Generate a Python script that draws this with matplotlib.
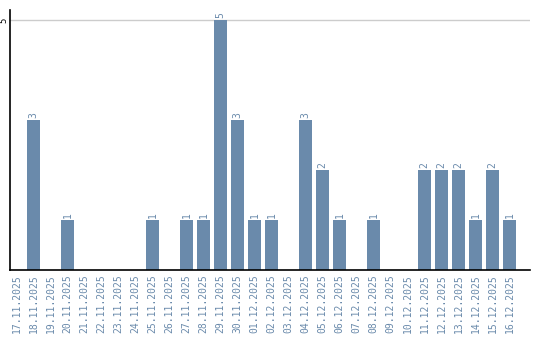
import matplotlib
matplotlib.use("Agg")
import matplotlib.pyplot as plt

dates = ["17.11.2025", "18.11.2025", "19.11.2025", "20.11.2025", "21.11.2025",
         "22.11.2025", "23.11.2025", "24.11.2025", "25.11.2025", "26.11.2025",
         "27.11.2025", "28.11.2025", "29.11.2025", "30.11.2025", "01.12.2025",
         "02.12.2025", "03.12.2025", "04.12.2025", "05.12.2025", "06.12.2025",
         "07.12.2025", "08.12.2025", "09.12.2025", "10.12.2025", "11.12.2025",
         "12.12.2025", "13.12.2025", "14.12.2025", "15.12.2025", "16.12.2025"]
values = [0, 3, 0, 1, 0, 0, 0, 0, 1, 0, 1, 1, 5, 3, 1, 1, 0, 3, 2, 1,
          0, 1, 0, 0, 2, 2, 2, 1, 2, 1]
y_ticks = [5]

bar_color = "#6a8aab"
label_color = "#6a8aab"

fig = plt.figure(figsize=(5.4, 3.4), dpi=100)
ax = fig.add_axes([10/540, 70/340, 520/540, 260/340])

x = list(range(len(dates)))
ax.bar(x, values, width=0.76, color=bar_color, zorder=2)
for xi, v in zip(x, values):
    if v > 0:
        ax.annotate(str(v), (xi, v), xytext=(0, 1.5), textcoords="offset points",
                    rotation=90, ha="center", va="bottom", color=label_color,
                    fontsize=7, family="DejaVu Sans Mono")

ax.set_xlim(-0.38, 30.2)
ax.set_ylim(0, 5.2)
ax.set_xticks(x)
ax.set_xticklabels(dates, rotation=90, color=label_color, fontsize=7,
                   family="DejaVu Sans Mono")
ax.set_yticks(y_ticks)
ax.set_yticklabels([str(t) for t in y_ticks], rotation=90, va="center",
                   fontsize=6.5, family="DejaVu Sans Mono", color="black")
ax.tick_params(axis="x", length=0, pad=3)
ax.tick_params(axis="y", length=0, pad=1)
ax.grid(axis="y", color="#cccccc", linewidth=1, zorder=0)
for s in ["top", "right"]:
    ax.spines[s].set_visible(False)
ax.spines["left"].set_color("black")
ax.spines["bottom"].set_color("black")
ax.spines["left"].set_linewidth(1.2)
ax.spines["bottom"].set_linewidth(1.2)

fig.savefig("out.png", dpi=100)
